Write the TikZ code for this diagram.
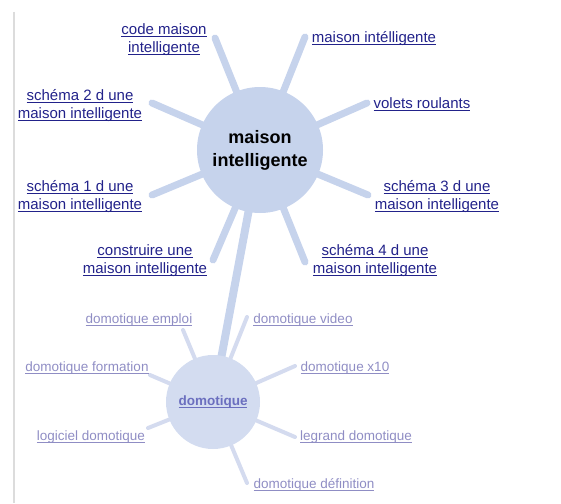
\documentclass[tikz,border=0pt]{standalone}
\usepackage{fontspec}
\setmainfont{Liberation Sans}
\usetikzlibrary{backgrounds}
\definecolor{mainfill}{HTML}{C6D3EC}
\definecolor{domfill}{HTML}{D3DCF0}
\definecolor{domspoke}{HTML}{D4DBEF}
\definecolor{navy}{HTML}{22228A}
\definecolor{domtext}{HTML}{8F8DC4}
\definecolor{domcenter}{HTML}{6B6FBF}
\definecolor{rulegray}{HTML}{DCDCDC}
\newcommand{\ulx}[1]{\underline{\raisebox{0pt}[\height][0pt]{#1}}}
\tikzset{
  mainlbl/.style={text=navy, font=\fontsize{15}{18}\selectfont, align=center, inner sep=0pt},
  domlbl/.style={text=domtext, font=\fontsize{13.5}{16}\selectfont, align=center, inner sep=0pt},
  spokeA/.style={line width=7pt, line cap=round, draw=mainfill},
  spokeB/.style={line width=4pt, line cap=round, draw=domspoke},
  link/.style={line width=8pt, line cap=round, draw=mainfill},
}
\begin{document}
\begin{tikzpicture}[x=1pt, y=-1pt]
\path[use as bounding box] (0,0) rectangle (561,503);
\draw[rulegray, line width=1.5pt] (14,12) -- (14,503);

% hubs
\node[circle, fill=mainfill, minimum size=126pt, inner sep=0pt,
      font=\fontsize{18}{23}\selectfont\bfseries, align=center] (main) at (260,150) {maison\\intelligente};
\node[circle, fill=domfill, minimum size=94pt, inner sep=0pt,
      font=\fontsize{13.5}{16}\selectfont\bfseries, text=domcenter] (dom) at (213,402) {\ulx{domotique}};

% spoke ends
\coordinate (eCode) at (215,38);
\coordinate (eIntel) at (305,37);
\coordinate (eVolets) at (367,103);
\coordinate (eS3) at (368,195);
\coordinate (eS4) at (305,262);
\coordinate (eS2) at (152,103);
\coordinate (eS1) at (152,195);
\coordinate (eCons) at (213,260);

\coordinate (dEmploi) at (183,330);
\coordinate (dVideo) at (247,317);
\coordinate (dForm) at (150,375);
\coordinate (dX10) at (295,366);
\coordinate (dLog) at (148,428);
\coordinate (dLeg) at (295,437);
\coordinate (dDef) at (247,483);

\begin{pgfonlayer}{background}
\foreach \e in {eCode,eIntel,eVolets,eS3,eS4,eS2,eS1,eCons}
  \draw[spokeA] (main.center) -- (\e);
\foreach \e in {dEmploi,dVideo,dForm,dX10,dLog,dLeg,dDef}
  \draw[spokeB] (dom.center) -- (\e);
\draw[link] (main.center) -- (dom.center);
\end{pgfonlayer}

% main labels
\node[mainlbl] (lCode) at (164,39) {\ulx{code maison}\\\ulx{intelligente}};
\node[mainlbl] (lIntel) at (374,38) {\ulx{maison intélligente}};
\node[mainlbl] (lVolets) at (422,104) {\ulx{volets roulants}};
\node[mainlbl] (lS3) at (437,196) {\ulx{schéma 3 d une}\\\ulx{maison intelligente}};
\node[mainlbl] (lS4) at (375,260) {\ulx{schéma 4 d une}\\\ulx{maison intelligente}};
\node[mainlbl] (lCons) at (145,260) {\ulx{construire une}\\\ulx{maison intelligente}};
\node[mainlbl] (lS1) at (80,196) {\ulx{schéma 1 d une}\\\ulx{maison intelligente}};
\node[mainlbl] (lS2) at (80,105) {\ulx{schéma 2 d une}\\\ulx{maison intelligente}};

% domotique labels
\node[domlbl] (lEmploi) at (139,320) {\ulx{domotique emploi}};
\node[domlbl] (lVideo) at (303,320) {\ulx{domotique video}};
\node[domlbl] (lForm) at (87,368) {\ulx{domotique formation}};
\node[domlbl] (lX10) at (345,368) {\ulx{domotique x10}};
\node[domlbl] (lLog) at (91,437) {\ulx{logiciel domotique}};
\node[domlbl] (lLeg) at (356,437) {\ulx{legrand domotique}};
\node[domlbl] (lDef) at (314,485) {\ulx{domotique définition}};
\end{tikzpicture}
\end{document}
